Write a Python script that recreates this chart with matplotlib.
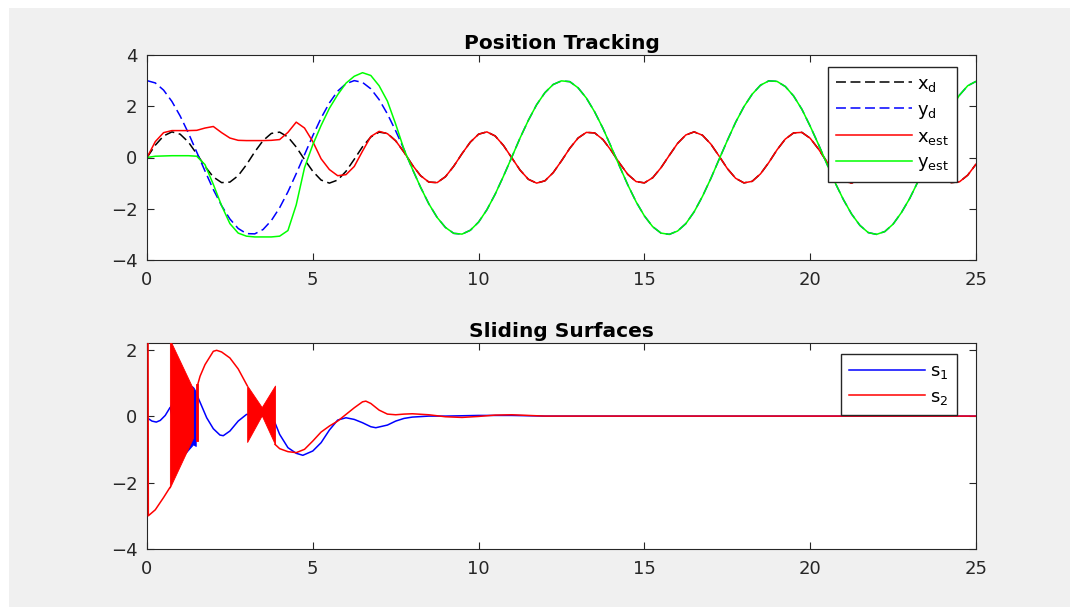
import numpy as np
import matplotlib
matplotlib.use("Agg")
import matplotlib.pyplot as plt
from matplotlib.patches import Rectangle

plt.rcParams['font.family'] = ['DejaVu Sans']
plt.rcParams['mathtext.fontset'] = 'dejavusans'

# ---- data (0.25 s grid for the top plot) ----
t = np.linspace(0, 25, 101)

x_d = [0.00, 0.48, 0.84, 1.00, 0.91, 0.60, 0.14, -0.35, -0.76, -0.98, -0.96,
       -0.71, -0.28, 0.22, 0.66, 0.94, 0.99, 0.80, 0.41, -0.08, -0.54, -0.88,
       -1.00, -0.88, -0.54, -0.07, 0.42, 0.80, 0.99, 0.94, 0.65,
       0.21, -0.29, -0.71, -0.96, -0.98, -0.75, -0.34, 0.15, 0.60, 0.91,
       1.00, 0.84, 0.47, -0.01, -0.49, -0.85, -1.00, -0.91, -0.59, -0.13,
       0.36, 0.76, 0.98, 0.96, 0.70, 0.27, -0.22, -0.66, -0.94, -0.99,
       -0.79, -0.40, 0.08, 0.55, 0.88, 1.00, 0.87, 0.53, 0.06, -0.43,
       -0.81, -0.99, -0.93, -0.64, -0.20, 0.30, 0.72, 0.96, 0.98, 0.75,
       0.33, -0.16, -0.61, -0.92, -1.00, -0.83, -0.46, 0.02, 0.50, 0.85,
       1.00, 0.90, 0.59, 0.12, -0.37, -0.77, -0.98, -0.95, -0.69, -0.26]

y_d = [3.00, 2.91, 2.63, 2.19, 1.62, 0.95, 0.21, -0.53, -1.25, -1.88, -2.40,
       -2.77, -2.97, -2.98, -2.81, -2.46, -1.96, -1.34, -0.63, 0.11, 0.85,
       1.54, 2.13, 2.59, 2.88, 3.00, 2.93, 2.68, 2.26, 1.70, 1.04,
       0.32, -0.44, -1.16, -1.81, -2.34, -2.73, -2.96, -2.99, -2.84, -2.52,
       -2.04, -1.43, -0.73, 0.01, 0.76, 1.45, 2.06, 2.53, 2.85, 2.99,
       2.96, 2.72, 2.32, 1.78, 1.14, 0.41, -0.34, -1.07, -1.73, -2.28,
       -2.70, -2.95, -3.00, -2.87, -2.58, -2.12, -1.52, -0.83, -0.08, 0.66,
       1.37, 1.98, 2.47, 2.82, 2.99, 2.97, 2.77, 2.40, 1.88, 1.22,
       0.51, -0.24, -0.98, -1.64, -2.21, -2.65, -2.93, -3.00, -2.89, -2.60,
       -2.15, -1.60, -0.94, -0.19, 0.55, 1.27, 1.91, 2.43, 2.80, 2.97]

# estimates before convergence (t = 0 .. 7.5), afterwards they follow the reference
x_est_start = [0.00, 0.62, 0.97, 1.05, 1.05, 1.05, 1.06, 1.15, 1.21, 0.97, 0.76,
               0.67, 0.66, 0.66, 0.66, 0.67, 0.70, 0.98, 1.38, 1.15, 0.62,
               -0.05, -0.47, -0.71, -0.67, -0.35, 0.25, 0.82, 1.02, 0.93, 0.65]
y_est_start = [0.00, 0.05, 0.06, 0.07, 0.07, 0.07, 0.05, -0.28, -1.05, -1.88, -2.58,
               -2.95, -3.07, -3.10, -3.10, -3.10, -3.07, -2.85, -1.85, -0.40, 0.50,
               1.25, 1.92, 2.45, 2.90, 3.17, 3.31, 3.20, 2.80, 2.20, 1.30]
x_est = x_est_start + x_d[31:]
y_est = y_est_start + y_d[31:]

# sliding surfaces (smooth parts, nan = gap where chattering is drawn)
t_s1 = [0, 0.15, 0.28, 0.40, 0.55, 0.69, 1.0, 1.50, 1.65, 1.80, 2.0, 2.2, 2.3, 2.5,
        2.75, 3.0, 3.25, 3.5, 3.86, 4.0, 4.25, 4.5, 4.7, 5.0, 5.25, 5.5, 5.75,
        6.0, 6.25, 6.5, 6.75, 6.9, 7.25, 7.5, 7.75, 8.0, 8.5, 9.0, 10.0, 11.0,
        12.0, 25.0]
s1 = [-0.05, -0.15, -0.18, -0.13, 0.02, 0.25, np.nan, 0.65, 0.30, -0.05, -0.38,
      -0.57, -0.59, -0.45, -0.15, 0.05, 0.05, 0.0, -0.20, -0.55, -0.95, -1.12,
      -1.18, -1.05, -0.80, -0.42, -0.12, -0.05, -0.10, -0.20, -0.32, -0.35,
      -0.27, -0.15, -0.07, -0.03, 0.0, 0.0, 0.02, 0.02, 0.0, 0.0]

t_s2 = [0, 0.03, 0.04, 0.25, 0.5, 0.69, 1.0, 1.53, 1.6, 1.75, 2.0, 2.1, 2.25, 2.5,
        2.75, 3.02, 3.4, 3.86, 4.0, 4.25, 4.5, 4.75, 5.0, 5.25, 5.5, 5.75, 6.0,
        6.25, 6.5, 6.6, 6.75, 7.0, 7.25, 7.5, 7.75, 8.0, 8.5, 9.0, 9.5, 10.0,
        10.5, 11.0, 11.5, 12.0, 25.0]
s2 = [3.0, 3.0, -3.0, -2.82, -2.45, -2.15, np.nan, 0.95, 1.20, 1.55, 1.95, 1.98, 1.93,
      1.75, 1.42, 0.92, np.nan, -0.85, -0.98, -1.07, -1.10, -1.00, -0.75, -0.48,
      -0.30, -0.15, 0.05, 0.25, 0.43, 0.45, 0.38, 0.18, 0.06, 0.04, 0.06, 0.07,
      0.04, -0.02, -0.04, -0.01, 0.03, 0.04, 0.02, 0.0, 0.0]

# chattering envelopes
t_ch1 = [0.69, 1.0, 1.39, 1.47]
s1_ch_hi = [0.28, 1.10, 0.88, 0.75]
s1_ch_lo = [0.20, -1.30, -0.85, -0.90]

t_ch2a = [0.69, 1.39]
s2_ch_hi_a = [2.30, 0.82]
s2_ch_lo_a = [-2.15, -0.65]
t_ch2b = [1.47, 1.53]
s2_ch_hi_b = [0.97, 0.97]
s2_ch_lo_b = [-0.75, -0.75]
t_ch2c = [3.02, 3.46, 3.86]
s2_ch_hi_c = [0.92, 0.27, 0.92]
s2_ch_lo_c = [-0.78, 0.02, -0.85]

# ---- figure ----
gray = (0.94, 0.94, 0.94)
dark = (0.15, 0.15, 0.15)
fig = plt.figure(figsize=(10.7, 6.07), dpi=100)
fig.patch.set_facecolor('white')
fig.patches.append(Rectangle((9 / 1070, 0), 1, 1 - 8 / 607, transform=fig.transFigure,
                             facecolor=gray, edgecolor='none', zorder=-1))

ax1 = fig.add_axes([147 / 1070, 1 - 260 / 607, 829 / 1070, 205 / 607])
ax2 = fig.add_axes([147 / 1070, 1 - 549 / 607, 829 / 1070, 206 / 607])

dash = (6.5, 3)
ax1.plot(t, x_d, color='k', lw=1.1, dashes=dash, label=r'$\mathrm{x_d}$')
ax1.plot(t, y_d, color='b', lw=1.1, dashes=dash, label=r'$\mathrm{y_d}$')
ax1.plot(t, x_est, color='r', lw=1.1, label=r'$\mathrm{x_{est}}$')
ax1.plot(t, y_est, color=(0, 1, 0), lw=1.1, label=r'$\mathrm{y_{est}}$')
ax1.set_xlim(0, 25)
ax1.set_ylim(-4, 4)
ax1.set_yticks([-4, -2, 0, 2, 4])
ax1.set_title('Position Tracking', fontsize=14.5, fontweight='bold', pad=4)

ax2.fill_between(t_ch1, s1_ch_lo, s1_ch_hi, color='b', lw=0.6, zorder=2)
ax2.plot(t_s1, s1, color='b', lw=1.1, label=r'$\mathrm{s_1}$', zorder=2)
ax2.plot(t_s2, s2, color='r', lw=1.1, label=r'$\mathrm{s_2}$', zorder=3)
for tc, lo, hi in [(t_ch2a, s2_ch_lo_a, s2_ch_hi_a),
                   (t_ch2b, s2_ch_lo_b, s2_ch_hi_b),
                   (t_ch2c, s2_ch_lo_c, s2_ch_hi_c)]:
    ax2.fill_between(tc, lo, hi, color='r', lw=0.6, zorder=3)
ax2.set_xlim(0, 25)
ax2.set_ylim(-4, 2.2)
ax2.set_yticks([-4, -2, 0, 2])
ax2.set_title('Sliding Surfaces', fontsize=14.5, fontweight='bold', pad=4)

for ax in (ax1, ax2):
    ax.set_xticks([0, 5, 10, 15, 20, 25])
    ax.tick_params(direction='in', length=5, width=0.8, colors=dark,
                   labelsize=13, top=True, right=True)
    ax.tick_params(axis='x', pad=8)
    ax.tick_params(axis='y', pad=7)
    for sp in ax.spines.values():
        sp.set_color(dark)
        sp.set_linewidth(0.8)

leg_kw = dict(loc='upper right', borderaxespad=0, fontsize=13, handlelength=4.2,
              handletextpad=0.3, labelspacing=0.38, borderpad=0.45,
              fancybox=False, framealpha=1, edgecolor=dark)
l1 = ax1.legend(bbox_to_anchor=(0.977, 0.943), **leg_kw)
l2 = ax2.legend(bbox_to_anchor=(0.977, 0.948), **leg_kw)
for lg in (l1, l2):
    lg.get_frame().set_linewidth(1.0)
    lg.set_zorder(10)

fig.savefig('out.png', dpi=100)
